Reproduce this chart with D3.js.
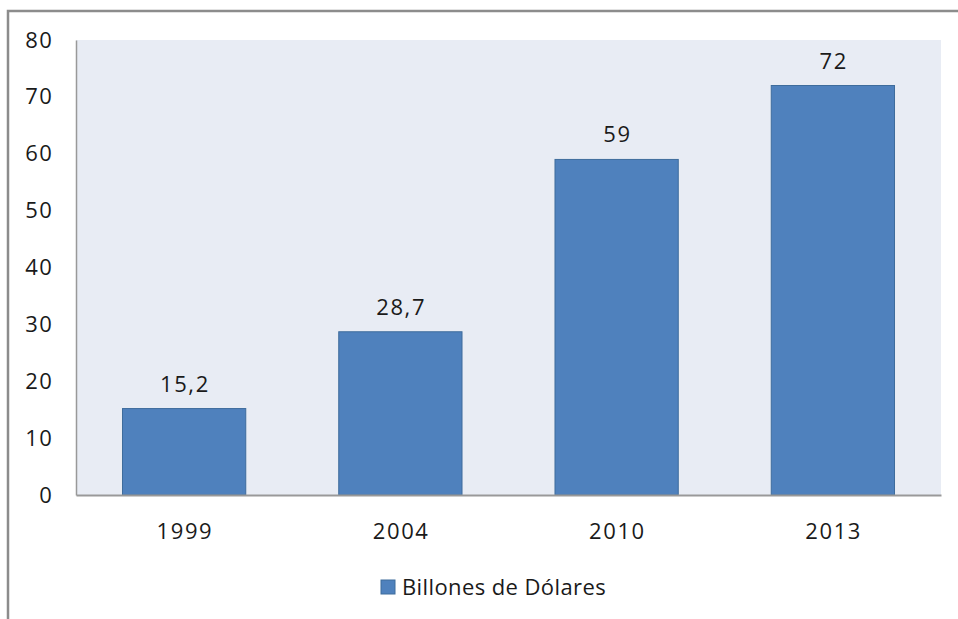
<!DOCTYPE html>
<html><head><meta charset="utf-8">
<script src="https://cdn.jsdelivr.net/npm/d3@7"></script>
<style>html,body{margin:0;padding:0;background:#fff;} text{font-family:"Open Sans",sans-serif;fill:#1a1a1a;}</style>
</head><body>
<svg id="c" width="958" height="619"></svg>
<script>
const categories = ["1999", "2004", "2010", "2013"];
const values = [15.2, 28.7, 59, 72];
const valueLabels = ["15,2", "28,7", "59", "72"];
const yTicks = [0, 10, 20, 30, 40, 50, 60, 70, 80];
const seriesName = "Billones de Dólares";

const svg = d3.select("#c");
const W = 958, H = 619;
const m = {left: 76, top: 40, right: 941, bottom: 495};
const FONT = '"Open Sans",sans-serif';

// outer frame
svg.append("path").attr("d", `M8,${H} L8,11 L${W},11`).attr("fill","none").attr("stroke","#8c8c8c").attr("stroke-width",2.5);

const x = d3.scaleBand().domain(categories).range([m.left, m.right]).paddingInner(0.43).paddingOuter(0.215);
const y = d3.scaleLinear().domain([0, 80]).range([m.bottom, m.top]);

svg.append("rect").attr("x", m.left).attr("y", m.top).attr("width", m.right - m.left).attr("height", m.bottom - m.top).attr("fill", "#e8ecf4");

svg.selectAll("rect.bar").data(values).join("rect").attr("class","bar")
  .attr("x", (d,i) => x(categories[i]))
  .attr("y", d => y(d))
  .attr("width", x.bandwidth())
  .attr("height", d => y(0) - y(d))
  .attr("fill", "#4f81bd").attr("stroke", "#3e6c9c").attr("stroke-width", 1);

svg.selectAll("text.vl").data(values).join("text").attr("class","vl")
  .attr("x", (d,i) => x(categories[i]) + x.bandwidth()/2 + 0.8)
  .attr("y", d => y(d) - 17)
  .attr("text-anchor","middle").attr("font-size", 22).attr("letter-spacing", 1.6)
  .text((d,i) => valueLabels[i]);

// axes
const yAxis = d3.axisLeft(y).tickValues(yTicks).tickSize(0).tickPadding(22.5);
const gy = svg.append("g").attr("transform", `translate(${m.left},0)`).call(yAxis);
gy.select(".domain").attr("stroke", "#999").attr("stroke-width", 1.5);
gy.selectAll("text").attr("font-size", 22).attr("letter-spacing", 1.6).attr("fill", "#1a1a1a").style("font-family", FONT);

const xAxis = d3.axisBottom(x).tickSize(0);
const gx = svg.append("g").attr("transform", `translate(0,${m.bottom})`).call(xAxis);
gx.select(".domain").attr("stroke", "#999").attr("stroke-width", 2);
gx.selectAll("text").attr("dy", null).attr("y", 44).attr("x", 0.8).attr("font-size", 22).attr("letter-spacing", 1.6).attr("fill", "#1a1a1a").style("font-family", FONT);

// legend
const lg = svg.append("g");
lg.append("rect").attr("x", 381).attr("y", 580).attr("width", 14).attr("height", 14).attr("fill", "#4f81bd").attr("stroke", "#3e6c9c");
lg.append("text").attr("x", 402).attr("y", 595).attr("font-size", 22).attr("letter-spacing", 0.4).text(seriesName);
</script>
</body></html>
